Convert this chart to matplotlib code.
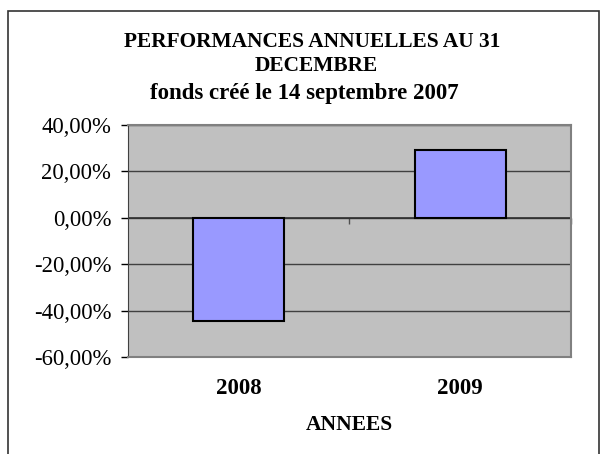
import matplotlib.pyplot as plt
from matplotlib.patches import Rectangle
from matplotlib.ticker import FuncFormatter

# données
annees = ["2008", "2009"]
perfs = [-44.7, 29.4]
y_ticks = [-60, -40, -20, 0, 20, 40]

plt.rcParams['font.family'] = ['Liberation Serif', 'DejaVu Serif']

fig = plt.figure(figsize=(6.12, 4.54), dpi=100)
ax = fig.add_axes([0.209, 0.2137, 0.724, 0.511])

# cadre autour du graphique (coupé en bas)
fig.patches.append(Rectangle((0.013, -0.05), 0.966, 1.026, transform=fig.transFigure,
                             fill=False, edgecolor='#333333', linewidth=1.2))

ax.set_facecolor('#C0C0C0')
x = range(len(annees))
ax.bar(x, perfs, width=0.41, color='#9999FF', edgecolor='black', linewidth=1.5, zorder=3)

ax.set_xlim(-0.5, len(annees) - 0.5)
ax.set_ylim(y_ticks[0], y_ticks[-1])
ax.set_yticks(y_ticks)
ax.yaxis.set_major_formatter(FuncFormatter(lambda v, p: f"{v:.2f}%".replace('.', ',')))
ax.grid(axis='y', color='#404040', linewidth=1, zorder=1)
ax.axhline(0, color='#303030', linewidth=1.2, zorder=2)

ax.set_xticks(list(x))
ax.set_xticklabels(annees, fontweight='bold', fontsize=16.5)
ax.tick_params(axis='x', length=0, pad=15)
ax.tick_params(axis='y', labelsize=16.3, length=5, width=1, color='black', pad=7)
ax.set_xlabel("ANNEES", fontweight='bold', fontsize=15.5, labelpad=12)

# petits traits de séparation sur l'axe zéro
loc0 = (0 - y_ticks[0]) / (y_ticks[-1] - y_ticks[0])
sec = ax.secondary_xaxis(loc0)
sec.set_xticks([0.5, 1.5])
sec.tick_params(axis='x', direction='out', length=4, width=1, color='#505050',
                labelbottom=False, labeltop=False)
sec.spines['bottom'].set_visible(False)
sec.spines['top'].set_visible(False)
sec.xaxis.set_ticks_position('bottom')
sec.set_xticklabels([])

for side in ['top', 'right', 'bottom']:
    ax.spines[side].set_color('#808080')
    ax.spines[side].set_linewidth(1.5)
ax.spines['left'].set_color('#404040')

fig.text(0.51, 0.908, "PERFORMANCES ANNUELLES AU 31", ha='center', va='center',
         fontweight='bold', fontsize=15.4)
fig.text(0.517, 0.855, "DECEMBRE", ha='center', va='center', fontweight='bold', fontsize=15.4)
fig.text(0.498, 0.794, "fonds créé le 14 septembre 2007", ha='center', va='center',
         fontweight='bold', fontsize=16.5)

fig.savefig("out.png", dpi=100)
